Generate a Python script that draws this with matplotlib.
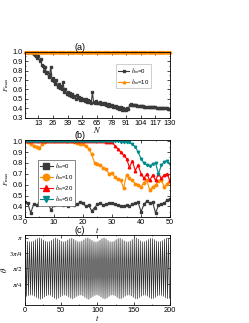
import numpy as np
import matplotlib
matplotlib.use("Agg")
import matplotlib.pyplot as plt
from matplotlib.ticker import AutoMinorLocator

# ---- panel (a): F_max vs N ----
N_vals = list(range(1, 131))
fa_h0 = [1.0, 1.0, 1.0, 1.0, 1.0, 1.0, 0.995, 0.99, 0.975, 0.965,
         0.95, 0.93, 0.95, 0.90, 0.92, 0.86, 0.85, 0.80, 0.84, 0.77,
         0.78, 0.73, 0.76, 0.84, 0.70, 0.72, 0.69, 0.66, 0.70, 0.62,
         0.66, 0.61, 0.64, 0.60, 0.68, 0.57, 0.60, 0.55, 0.57, 0.54,
         0.56, 0.53, 0.55, 0.52, 0.53, 0.50, 0.54, 0.51, 0.52, 0.49,
         0.51, 0.49, 0.50, 0.48, 0.50, 0.47, 0.49, 0.47, 0.48, 0.46,
         0.57, 0.47, 0.46, 0.48, 0.45, 0.46, 0.45, 0.47, 0.44, 0.46,
         0.44, 0.45, 0.43, 0.44, 0.42, 0.44, 0.42, 0.43, 0.41, 0.42,
         0.41, 0.42, 0.40, 0.41, 0.39, 0.41, 0.385, 0.40, 0.38, 0.39,
         0.38, 0.40, 0.39, 0.43, 0.44, 0.435, 0.435, 0.43, 0.43, 0.43,
         0.428, 0.426, 0.424, 0.422, 0.42, 0.418, 0.417, 0.416, 0.415, 0.414,
         0.413, 0.412, 0.411, 0.41, 0.409, 0.408, 0.407, 0.406, 0.405, 0.404,
         0.403, 0.402, 0.401, 0.40, 0.399, 0.398, 0.397, 0.396, 0.395, 0.394]
fa_h10 = [1.0] * 130

# ---- panel (b): F_max vs t ----
t_b = list(range(0, 51))
fb_h0 = [0.44, 0.43, 0.34, 0.42, 0.41, 0.43, 0.42, 0.43, 0.42, 0.37, 0.41,
         0.42, 0.46, 0.41, 0.42, 0.40, 0.43, 0.41, 0.42, 0.44, 0.43,
         0.40, 0.41, 0.36, 0.39, 0.42, 0.43, 0.41, 0.42, 0.43, 0.43,
         0.42, 0.41, 0.40, 0.40, 0.41, 0.40, 0.42, 0.43, 0.44, 0.35,
         0.42, 0.45, 0.43, 0.44, 0.34, 0.41, 0.42, 0.43, 0.46, 0.47]
fb_h10 = [1.0, 0.99, 0.97, 0.96, 0.95, 0.94, 0.97, 0.99, 1.0, 1.0, 1.0,
          1.0, 1.0, 1.0, 1.0, 1.0, 1.0, 0.99, 0.98, 0.97, 0.97,
          0.96, 0.93, 0.88, 0.80, 0.79, 0.78, 0.75, 0.74, 0.70, 0.71,
          0.67, 0.65, 0.64, 0.57, 0.69, 0.66, 0.64, 0.61, 0.60, 0.58,
          0.62, 0.64, 0.55, 0.58, 0.60, 0.63, 0.64, 0.58, 0.61, 0.64]
fb_h20 = [1.0, 1.0, 1.0, 1.0, 1.0, 1.0, 1.0, 1.0, 1.0, 1.0, 1.0,
          1.0, 1.0, 1.0, 1.0, 1.0, 1.0, 1.0, 1.0, 1.0, 1.0,
          1.0, 1.0, 1.0, 1.0, 1.0, 1.0, 1.0, 0.995, 0.99, 0.99,
          0.96, 0.93, 0.90, 0.87, 0.84, 0.76, 0.82, 0.73, 0.78, 0.70,
          0.66, 0.70, 0.64, 0.69, 0.64, 0.70, 0.66, 0.69, 0.70, 0.63]
fb_h50 = [1.0, 1.0, 1.0, 1.0, 1.0, 1.0, 1.0, 1.0, 1.0, 1.0, 1.0,
          1.0, 1.0, 1.0, 1.0, 1.0, 1.0, 1.0, 1.0, 1.0, 1.0,
          1.0, 1.0, 1.0, 1.0, 1.0, 1.0, 1.0, 1.0, 1.0, 1.0,
          1.0, 1.0, 0.995, 0.99, 0.99, 0.99, 0.97, 0.95, 0.90, 0.84,
          0.80, 0.78, 0.77, 0.79, 0.80, 0.70, 0.78, 0.81, 0.82, 0.79]

# ---- panel (c): theta vs t, turning points of the fast oscillation ----
theta_top = [3.00, 2.96, 2.93, 2.94, 2.98, 3.04, 3.10, 3.14,
             3.10, 3.03, 2.97, 2.93, 2.95, 3.01, 3.08, 3.13,
             3.09, 3.02, 2.96, 2.93, 2.96, 3.03, 3.09, 3.12,
             3.07, 3.00, 2.95, 2.93, 2.97, 3.04, 3.11, 3.14,
             3.08, 3.01, 2.95, 2.92, 2.96, 3.03, 3.10, 3.13,
             3.08, 3.00, 2.94, 2.93, 2.97, 3.05, 3.11, 3.12,
             3.06, 2.99, 2.94, 2.93, 2.98, 3.05, 3.12, 3.13,
             3.07, 2.99, 2.94, 2.94, 2.99, 3.06, 3.12, 3.11,
             3.05, 2.98, 2.94, 2.95, 3.00, 3.07, 3.12, 3.10]
theta_bot = [0.14, 0.18, 0.21, 0.20, 0.15, 0.09, 0.03, -0.01,
             0.03, 0.11, 0.17, 0.21, 0.19, 0.12, 0.05, 0.00,
             0.05, 0.12, 0.18, 0.21, 0.18, 0.11, 0.04, 0.01,
             0.07, 0.14, 0.19, 0.21, 0.17, 0.10, 0.03, -0.01,
             0.06, 0.13, 0.19, 0.22, 0.18, 0.11, 0.04, 0.01,
             0.06, 0.14, 0.20, 0.21, 0.17, 0.09, 0.03, 0.02,
             0.08, 0.15, 0.20, 0.21, 0.16, 0.09, 0.02, 0.01,
             0.07, 0.15, 0.20, 0.20, 0.15, 0.08, 0.02, 0.03,
             0.09, 0.16, 0.20, 0.19, 0.14, 0.07, 0.02, 0.04]

theta_c = np.column_stack([theta_top, theta_bot]).ravel()
t_c = np.linspace(0.7, 199.3, len(theta_c))

fs = 5.3
plt.rcParams['font.family'] = ['Liberation Sans', 'DejaVu Sans']
plt.rcParams['mathtext.fontset'] = 'stix'

fig = plt.figure(figsize=(2.49, 3.23), dpi=100)
ax1 = fig.add_axes([0.100, 0.636, 0.583, 0.204])
ax2 = fig.add_axes([0.100, 0.327, 0.583, 0.241])
ax3 = fig.add_axes([0.100, 0.056, 0.583, 0.216])

c_blk = '#3a3a3a'
c_org = '#ff8c00'
c_red = '#ff0000'
c_teal = '#008b8b'

def style(ax):
    ax.tick_params(direction='in', labelsize=fs, length=2, width=0.5, pad=1.5,
                   top=True, right=True)
    ax.tick_params(which='minor', direction='in', length=1, width=0.4,
                   top=True, right=True)
    for s in ax.spines.values():
        s.set_linewidth(0.6)

# (a)
ax1.plot(N_vals, fa_h0, '-s', color=c_blk, ms=1.8, lw=0.8, label=r'$h_m$=0')
ax1.plot(N_vals, fa_h10, '-^', color=c_org, ms=1.8, lw=0.8, label=r'$h_m$=10',
         clip_on=False)
ax1.set_xlim(1, 130)
ax1.set_ylim(0.3, 1.0)
ax1.set_xticks(range(13, 131, 13))
ax1.set_yticks(np.arange(0.3, 1.01, 0.1))
ax1.yaxis.set_minor_locator(AutoMinorLocator(2))
style(ax1)
ax1.set_title('(a)', fontsize=6.5, x=0.38, pad=1)
ax1.set_xlabel('$N$', fontsize=6, labelpad=-1)
ax1.set_ylabel(r'$F_{\rm max}$', fontsize=5, labelpad=1)
ax1.legend(loc='upper left', bbox_to_anchor=(0.61, 0.86), fontsize=4.3,
           handlelength=1.8, handletextpad=0.3, borderpad=0.3,
           labelspacing=0.2, frameon=True, fancybox=False,
           edgecolor='#bbbbbb', framealpha=1).get_frame().set_linewidth(0.5)

# (b)
ax2.plot(t_b, fb_h0, '-s', color=c_blk, ms=1.8, lw=0.8, label=r'$h_m$=0')
ax2.plot(t_b, fb_h10, '-o', color=c_org, ms=1.8, lw=0.8, label=r'$h_m$=10')
ax2.plot(t_b, fb_h20, '-^', color=c_red, ms=1.8, lw=0.8, label=r'$h_m$=20')
ax2.plot(t_b, fb_h50, '-v', color=c_teal, ms=1.8, lw=0.8, label=r'$h_m$=50')
ax2.set_xlim(0, 50)
ax2.set_ylim(0.3, 1.015)
ax2.set_xticks(range(0, 51, 10))
ax2.set_yticks(np.arange(0.3, 1.01, 0.1))
ax2.xaxis.set_minor_locator(AutoMinorLocator(2))
ax2.yaxis.set_minor_locator(AutoMinorLocator(2))
style(ax2)
ax2.set_title('(b)', fontsize=6.5, x=0.38, pad=1)
ax2.set_xlabel('$t$', fontsize=6, labelpad=-1)
ax2.set_ylabel(r'$F_{\rm max}$', fontsize=5, labelpad=1)
ax2.legend(loc='upper left', bbox_to_anchor=(0.07, 0.78), fontsize=4.3,
           markerscale=2.6, handlelength=2.2, handletextpad=0.3,
           borderpad=0.3, labelspacing=0.15, fancybox=False,
           edgecolor='#555555', framealpha=1).get_frame().set_linewidth(0.5)

# (c)
ax3.plot(t_c, theta_c, '-', color='#303030', lw=0.5)
ax3.set_xlim(0, 200)
ax3.set_ylim(-0.3, np.pi + 0.14)
ax3.set_xticks(range(0, 201, 50))
ax3.set_yticks([np.pi / 4, np.pi / 2, 3 * np.pi / 4, np.pi])
ax3.set_yticklabels([r'$\pi/4$', r'$\pi/2$', r'$3\pi/4$', r'$\pi$'], fontsize=5)
ax3.xaxis.set_minor_locator(AutoMinorLocator(2))
style(ax3)
ax3.tick_params(axis='y', labelsize=5)
ax3.set_title('(c)', fontsize=6.5, x=0.38, pad=1)
ax3.set_xlabel('$t$', fontsize=6, labelpad=-1)
ax3.set_ylabel(r'$\theta$', fontsize=6, labelpad=0)

fig.savefig('out.png', dpi=100)
